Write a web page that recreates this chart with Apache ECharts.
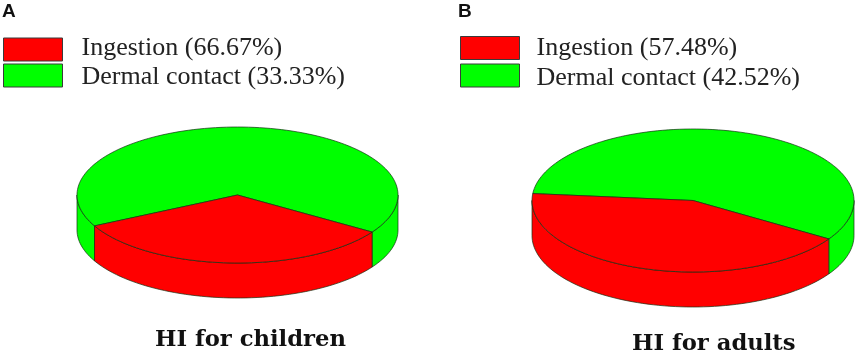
<!DOCTYPE html>
<html><head><meta charset="utf-8">
<style>html,body{margin:0;padding:0;background:#fff}#c{width:858px;height:352px}</style>
<script src="https://cdn.jsdelivr.net/npm/echarts@6/dist/echarts.min.js"></script>
</head><body><div id="c"></div>
<script>
// Data
const categories = ['Ingestion', 'Dermal contact'];
const childrenLabelled = [66.67, 33.33];
const adultsLabelled = [57.48, 42.52];
// Wedge sizes as actually drawn in the figure (the red wedge spans the smaller share)
const childrenDrawn = [33.33, 66.67];
const adultsDrawn = [42.52, 57.48];
const panelTitles = ['HI for children', 'HI for adults'];
const panelLetters = ['A', 'B'];
const colors = ['#ff0000', '#00ff00'];

const panels = [
  {cx: 237.5, cy: 195, rx: 160.5, ry: 68, depth: 35, start: 33, labelled: childrenLabelled, drawn: childrenDrawn,
   legendLeft: 3, legendTops: [35, 61], legendPads: [[0, 0, 3, 14], [3, 0, 0, 14]]},
  {cx: 693, cy: 200.5, rx: 161, ry: 71.5, depth: 35, start: 32.5, labelled: adultsLabelled, drawn: adultsDrawn,
   legendLeft: 460, legendTops: [35, 60], legendPads: [[0, 0, 0, 12], [5, 0, 0, 12]]}
];
const rad = d => d * Math.PI / 180;

function arcPts(p, a0, a1, dy) {
  const n = Math.max(2, Math.ceil(Math.abs(a1 - a0) / 2));
  const pts = [];
  for (let i = 0; i <= n; i++) {
    const a = rad(a0 + (a1 - a0) * i / n);
    pts.push([p.cx + p.rx * Math.cos(a), p.cy + dy + p.ry * Math.sin(a)]);
  }
  return pts;
}
const edge = {stroke: '#123012', lineWidth: 0.7};

function wedgeItem(p, index) {
  return function (params, api) {
    if (params.dataIndex !== 0) return null;
    const share = api.value(0);
    const before = index === 0 ? 0 : p.drawn.slice(0, index).reduce((s, v) => s + v, 0);
    const a0 = p.start + before * 3.6;
    const a1 = a0 + share * 3.6;
    const color = colors[index];
    const children = [];
    // visible front wall: parts of the arc inside 0..180 (mod 360)
    [[0, 180], [360, 540]].forEach(([lo, hi]) => {
      const s = Math.max(a0, lo), e = Math.min(a1, hi);
      if (e > s) {
        const top = arcPts(p, s, e, 0), bot = arcPts(p, e, s, p.depth);
        children.push({type: 'polygon', shape: {points: top.concat(bot)},
          style: Object.assign({fill: color}, edge)});
      }
    });
    // top face
    const face = [[p.cx, p.cy]].concat(arcPts(p, a0, a1, 0));
    children.push({type: 'polygon', shape: {points: face},
      style: Object.assign({fill: color}, edge)});
    return {type: 'group', children};
  };
}

const series = [], legends = [];
panels.forEach(p => {
  const names = categories.map((c, i) => `${c} (${p.labelled[i].toFixed(2)}%)`);
  // green first so the red wedge and its wall sit on top
  [1, 0].forEach(i => {
    series.push({
      type: 'custom', name: names[i], coordinateSystem: 'none',
      silent: true, animation: false, clip: false,
      itemStyle: {color: colors[i]},
      data: [[p.drawn[i]]],
      renderItem: wedgeItem(p, i)
    });
  });
  names.forEach((name, i) => {
    legends.push({
      data: [name], orient: 'vertical', left: p.legendLeft, top: p.legendTops[i], padding: 0,
      itemWidth: 59, itemHeight: 23, icon: 'rect', selectedMode: false,
      itemStyle: {borderColor: '#3a3a3a', borderWidth: 1},
      formatter: n => `{t|${n}}`,
      textStyle: {
        rich: {t: {fontFamily: 'Liberation Serif', fontSize: 26, lineHeight: 23, color: '#222', padding: p.legendPads[i]}}
      }
    });
  });
});

const titleFont = {fontFamily: 'DejaVu Serif', fontWeight: 'bold', fontSize: 22.7, color: '#111'};
const letterFont = {fontFamily: 'Liberation Sans', fontWeight: 'bold', fontSize: 19, color: '#111'};
const chart = echarts.init(document.getElementById('c'), null, {renderer: 'canvas'});
chart.setOption({
  backgroundColor: '#fff',
  animation: false,
  title: [
    {text: panelLetters[0], left: 2, top: 2, padding: 0, textStyle: letterFont},
    {text: panelLetters[1], left: 458, top: 2, padding: 0, textStyle: letterFont},
    {text: panelTitles[0], left: 155, top: 329, padding: 0, textStyle: titleFont},
    {text: panelTitles[1], left: 632, top: 333, padding: 0, textStyle: titleFont}
  ],
  legend: legends,
  series
});
</script></body></html>
